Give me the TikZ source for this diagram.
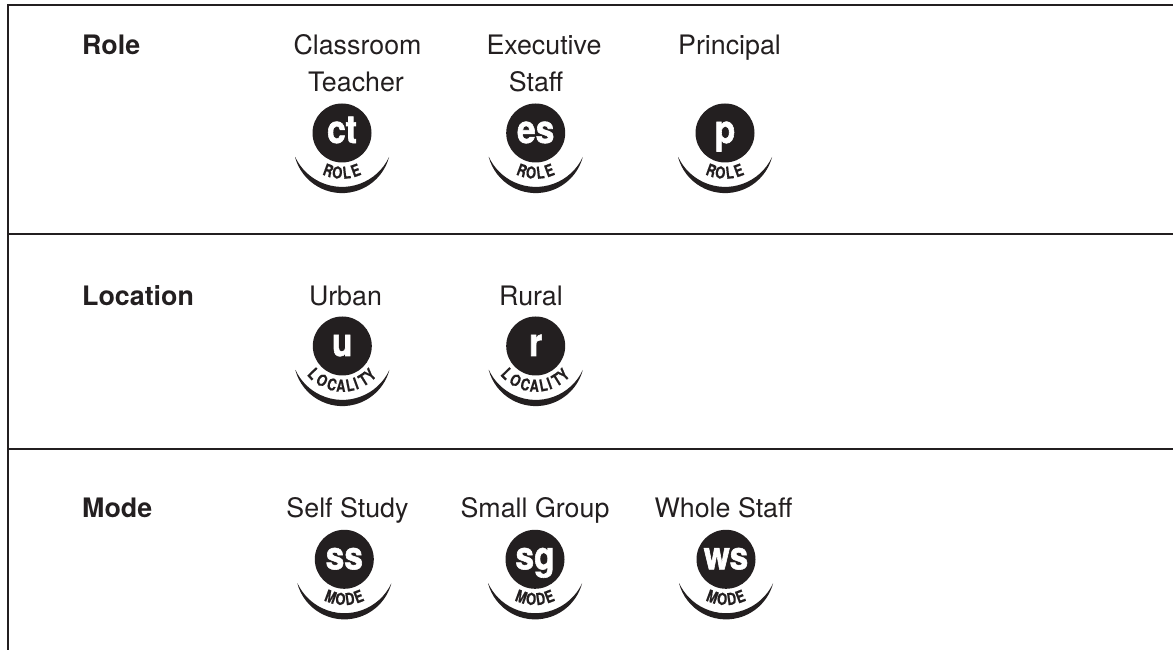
\documentclass[tikz,border=0pt]{standalone}
\usepackage{fontspec}
\setmainfont{TeX Gyre Heros}
\newfontfamily\badgefont[FakeStretch=0.86,FakeBold=1.5]{TeX Gyre Heros}
\newfontfamily\arcfont[FakeStretch=0.78,FakeBold=0.6]{TeX Gyre Heros}
\definecolor{ink}{HTML}{231F20}
\tikzset{
  x=1pt,y=1pt,
  rule/.style={draw=ink,line width=2pt},
  lab/.style={text=ink,font=\fontsize{26.8}{30}\selectfont,inner sep=0pt,anchor=base},
  head/.style={text=ink,font=\fontsize{26.8}{30}\selectfont\bfseries,inner sep=0pt,anchor=base west},
  disc/.style={circle,fill=ink,minimum size=59pt,inner sep=0pt},
  discword/.style={text=white,font=\badgefont\fontsize{39}{39}\selectfont\bfseries,inner sep=0pt,anchor=base},
  arcletter/.style={text=ink,font=\arcfont\fontsize{16.5}{16.5}\selectfont\bfseries,inner sep=0pt,anchor=base},
}
\newcommand{\badge}[5]{% name, x, y, letters, arc letters with their angles
  \begin{scope}[shift={(#2,650-#3)}]
    \node[disc] (#1) at (0,0) {};
    \node[discword] (#1t) at (0,-10) {#4};
    \fill[ink] (-47,-24) arc[start angle=195,end angle=345,radius=48.7]
       arc[start angle=335,end angle=205,radius=51.8] -- cycle;
    \foreach \c/\a [count=\i] in {#5}
      \node[arcletter,rotate=\a] (#1a\i) at (270+\a:45.8) {\c};
  \end{scope}
}
\begin{document}
\begin{tikzpicture}
\useasboundingbox (0,0) rectangle (1173,650);
\coordinate (tl) at (7.5,645);
\coordinate (tr) at (1173,645);
\coordinate (bl) at (7.5,0);
\coordinate (a1) at (7.5,416); \coordinate (a2) at (1173,416);
\coordinate (b1) at (7.5,201); \coordinate (b2) at (1173,201);
\draw[rule] (bl) -- (tl) -- (tr);
\draw[rule] (a1) -- (a2);
\draw[rule] (b1) -- (b2);

\node[head] (h1) at (82,650-55) {Role};
\node[head] (h2) at (82,650-305.7) {Location};
\node[head] (h3) at (82,650-518) {Mode};

\node[lab] (t1) at (357.5,650-55) {Classroom};
\node[lab] (t2) at (356,650-92) {Teacher};
\node[lab] (t3) at (544,650-55) {Executive};
\node[lab] (t4) at (536,650-92) {Staff};
\node[lab] (t5) at (729.5,650-55) {Principal};
\node[lab] (t6) at (345.5,650-305.7) {Urban};
\node[lab] (t7) at (531,650-305.7) {Rural};
\node[lab] (t8) at (347.5,650-518) {Self Study};
\node[lab] (t9) at (535,650-518) {Small Group};
\node[lab] (t10) at (723.5,650-518) {Whole Staff};

\badge{ct}{342}{133}{ct}{R/-20,O/-6.7,L/6.7,E/20}
\badge{es}{535.7}{133}{es}{R/-20,O/-6.7,L/6.7,E/20}
\badge{pp}{725}{133}{p}{R/-20,O/-6.7,L/6.7,E/20}
\badge{uu}{342.3}{346}{u}{L/-46,O/-30.5,C/-15,A/-2,L/11,I/20,T/32,Y/44}
\badge{rr}{535.7}{346}{r}{L/-46,O/-30.5,C/-15,A/-2,L/11,I/20,T/32,Y/44}
\badge{ss}{344.3}{559.3}{ss}{M/-20,O/-5.5,D/8,E/21}
\badge{sg}{535}{559.3}{sg}{M/-20,O/-5.5,D/8,E/21}
\badge{ws}{726}{559.3}{ws}{M/-20,O/-5.5,D/8,E/21}
\end{tikzpicture}
\end{document}
